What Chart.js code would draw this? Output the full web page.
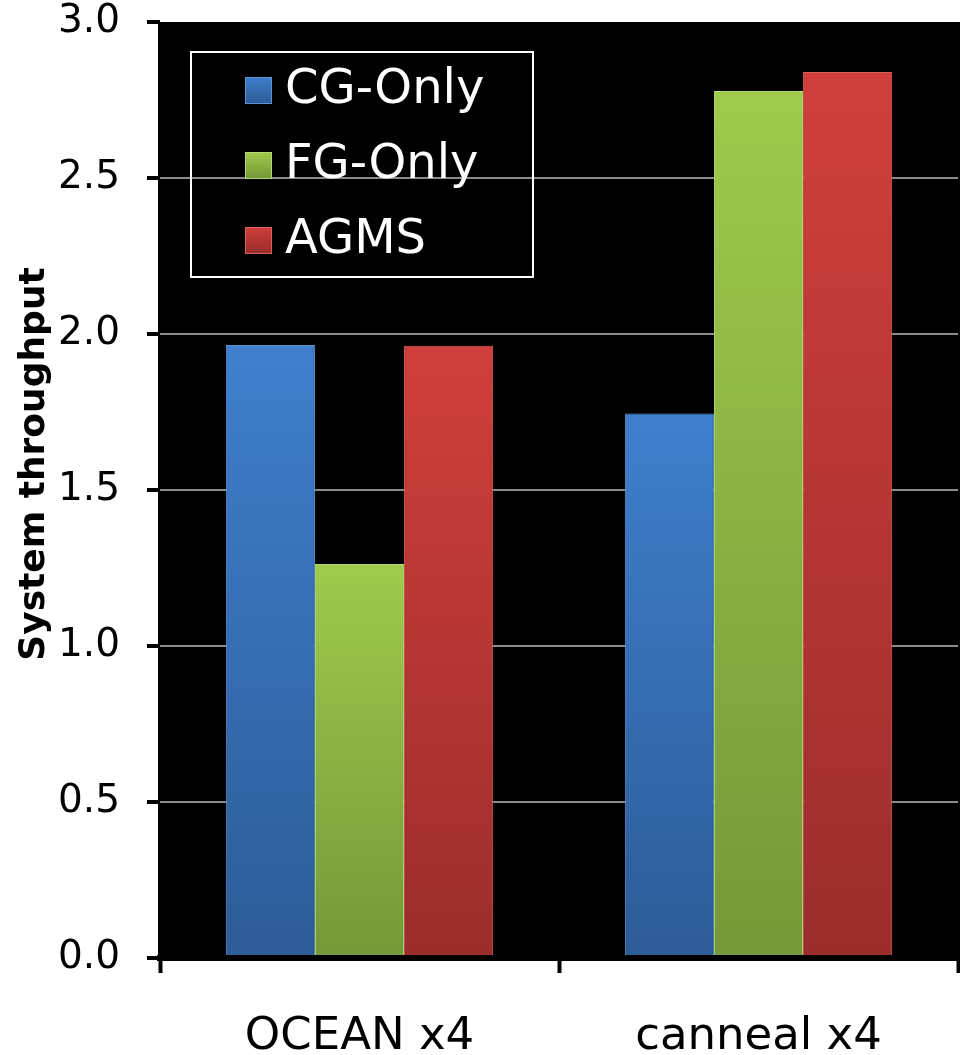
<!DOCTYPE html>
<html>
<head>
<meta charset="utf-8">
<script src="https://cdn.jsdelivr.net/npm/chart.js@4/dist/chart.umd.min.js"></script>
<style>
  html, body { margin: 0; padding: 0; background: #ffffff; }
  #wrap { width: 960px; height: 1055px; }
</style>
</head>
<body>
<div id="wrap"><canvas id="c" width="960" height="1055"></canvas></div>
<script>
// Workloads on the category axis
const categories = ['OCEAN x4', 'canneal x4'];
// Memory scheduling schemes
const seriesNames = ['CG-Only', 'FG-Only', 'AGMS'];
// System throughput per scheme
const cgOnly = [1.965, 1.745];
const fgOnly = [1.263, 2.779];
const agms   = [1.962, 2.840];
// Value axis
const yTicks = [0, 0.5, 1.0, 1.5, 2.0, 2.5, 3.0];
const yTitle = 'System throughput';

const FONT = '"DejaVu Sans", "Liberation Sans", sans-serif';

const palettes = [
  { top: '#3f7fcd', bottom: '#2d5c97', edge: '#5c93d6' },
  { top: '#9fca4c', bottom: '#769838', edge: '#b4d873' },
  { top: '#d03f3b', bottom: '#9b2d2d', edge: '#d9605c' }
];

// Vertical gradient per bar: lighter at the top, darker at the base
function barFill(pal) {
  return (ctx) => {
    const chart = ctx.chart;
    const y = chart.scales && chart.scales.y;
    if (!chart.chartArea || !y || ctx.raw == null) return pal.top;
    const top = y.getPixelForValue(ctx.raw);
    const base = y.getPixelForValue(0);
    const g = chart.ctx.createLinearGradient(0, top, 0, base);
    g.addColorStop(0, pal.top);
    g.addColorStop(1, pal.bottom);
    return g;
  };
}

const seriesValues = [cgOnly, fgOnly, agms];

// Black plot background, drawn before grid and bars
const plotBackground = {
  id: 'plotBackground',
  beforeDraw(chart) {
    const { ctx, chartArea: a } = chart;
    ctx.save();
    ctx.fillStyle = '#000000';
    ctx.fillRect(a.left - 2, a.top, a.right - a.left + 4, a.bottom - a.top + 3);
    ctx.restore();
  }
};

// Boxed legend inside the plot area, plus the rotated value-axis title
const boxedLegend = {
  id: 'boxedLegend',
  afterDraw(chart) {
    const ctx = chart.ctx;
    ctx.save();
    // legend frame
    ctx.strokeStyle = '#ffffff';
    ctx.lineWidth = 2;
    ctx.strokeRect(191, 52, 342, 225);
    chart.data.datasets.forEach((ds, i) => {
      const pal = palettes[i];
      const cy = 90 + i * 75;
      const g = ctx.createLinearGradient(0, cy - 13, 0, cy + 13);
      g.addColorStop(0, pal.top);
      g.addColorStop(1, pal.bottom);
      ctx.fillStyle = g;
      ctx.fillRect(245, cy - 13, 27, 27);
      ctx.strokeStyle = pal.edge;
      ctx.lineWidth = 1;
      ctx.strokeRect(245.5, cy - 12.5, 26, 26);
      ctx.fillStyle = '#ffffff';
      ctx.font = '48px ' + FONT;
      ctx.textAlign = 'left';
      ctx.textBaseline = 'middle';
      ctx.fillText(ds.label, 285, cy + 1);
    });
    // value-axis title
    ctx.translate(35, 464);
    ctx.rotate(-Math.PI / 2);
    ctx.fillStyle = '#000000';
    ctx.font = 'bold 36px ' + FONT;
    ctx.textAlign = 'center';
    ctx.textBaseline = 'middle';
    ctx.fillText(yTitle, 0, 0);
    ctx.restore();
  }
};

new Chart(document.getElementById('c'), {
  type: 'bar',
  data: {
    labels: categories,
    datasets: seriesNames.map((name, i) => ({
      label: name,
      data: seriesValues[i],
      backgroundColor: barFill(palettes[i]),
      borderColor: palettes[i].edge,
      borderWidth: 1,
      borderSkipped: 'bottom',
      barPercentage: 1.0,
      categoryPercentage: 0.67
    }))
  },
  options: {
    responsive: false,
    animation: false,
    events: [],
    layout: { padding: { top: 22, right: 2, bottom: 0, left: 0 } },
    plugins: {
      legend: { display: false },
      tooltip: { enabled: false },
      title: { display: false }
    },
    scales: {
      x: {
        grid: {
          offset: true,
          drawOnChartArea: false,
          color: '#000000',
          tickColor: '#000000',
          tickWidth: 4,
          tickLength: 15
        },
        border: { display: true, color: '#000000', width: 6, z: 1 },
        ticks: {
          color: '#000000',
          font: { family: FONT, size: 45 },
          padding: 37,
          autoSkip: false,
          maxRotation: 0
        },
        afterFit(scale) {
          scale.height = 97;
          scale.paddingLeft = 0;
          scale.paddingRight = 0;
        }
      },
      y: {
        min: 0,
        max: 3,
        afterBuildTicks(scale) { scale.ticks = yTicks.map(v => ({ value: v })); },
        grid: {
          color: (c) => (c.tick && c.tick.value > 0 && c.tick.value < 3) ? '#8a8a8a' : 'rgba(0,0,0,0)',
          lineWidth: 2,
          tickColor: '#000000',
          tickWidth: 4,
          tickLength: 13
        },
        border: { display: false },
        ticks: {
          color: '#000000',
          font: { family: FONT, size: 39, lineHeight: 1 },
          padding: 27,
          callback: (v) => Number(v).toFixed(1)
        },
        afterFit(scale) {
          scale.width = 160;
          scale.paddingTop = 0;
          scale.paddingBottom = 0;
        }
      }
    }
  },
  plugins: [plotBackground, boxedLegend]
});
</script>
</body>
</html>
